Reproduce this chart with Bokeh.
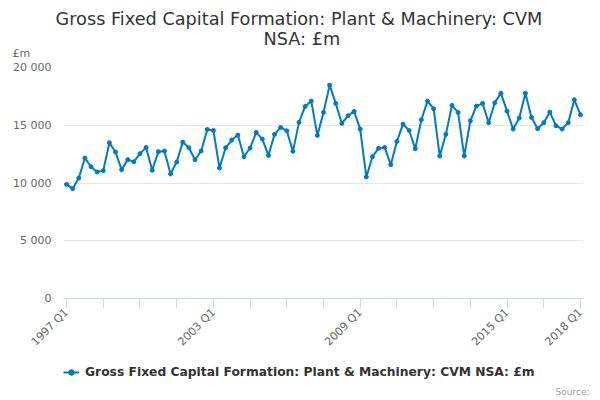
from math import pi
from bokeh.plotting import figure
from bokeh.layouts import column
from bokeh.models import (FixedTicker, Legend, LegendItem, Range1d, Title)
from bokeh.embed import file_html
from bokeh.resources import INLINE

title_line1 = "Gross Fixed Capital Formation: Plant & Machinery: CVM"
title_line2 = "NSA: £m"
series_name = "Gross Fixed Capital Formation: Plant & Machinery: CVM NSA: £m"
y_unit = "£m"
source_text = "Source:"

years = list(range(1997, 2019))
quarters = [f"{y} Q{q}" for y in years for q in (1, 2, 3, 4)][:85]

values = [
    9880, 9510, 10430, 12160, 11410, 10950, 11070, 13490, 12680, 11150,
    12020, 11840, 12540, 13080, 11100, 12710, 12770, 10780, 11820, 13540,
    13050, 12020, 12770, 14640, 14550, 11300, 13050, 13720, 14150, 12280,
    13030, 14380, 13800, 12390, 14210, 14810, 14520, 12740, 15250, 16630,
    17090, 14120, 16110, 18470, 16890, 15160, 15820, 16200, 14670, 10520,
    12280, 13000, 13080, 11590, 13600, 15100, 14550, 12970, 15480, 17090,
    16430, 12330, 14210, 16720, 16110, 12330, 15390, 16660, 16890, 15220,
    16950, 17780, 16220, 14670, 15620, 17780, 15680, 14700, 15220, 16140,
    14960, 14670, 15220, 17210, 15910,
]

y_ticks = [0, 5000, 10000, 15000, 20000]
y_tick_labels = ["0", "5 000", "10 000", "15 000", "20 000"]
x_label_idx = [0, 24, 48, 72, 84]

xs = list(range(len(values)))
FONT = "DejaVu Sans"
BLUE = "#007ac3"

p = figure(width=600, height=356, output_backend="svg", toolbar_location=None,
           x_range=Range1d(-0.5, len(values) - 0.5), y_range=Range1d(0, 20000),
           min_border_left=63, min_border_right=17, min_border_top=67, min_border_bottom=58)
p.outline_line_color = None
p.background_fill_color = "white"
p.border_fill_color = "white"

p.add_layout(Title(text=y_unit, align="left", offset=-51, text_font=FONT, text_font_size="11px",
                   text_color="#666666", text_font_style="normal", standoff=15), "above")
p.add_layout(Title(text=title_line2, align="left", offset=200, text_font=FONT, text_font_size="17.7px",
                   text_color="#333333", text_font_style="normal", standoff=-22), "above")
p.add_layout(Title(text=title_line1, align="left", offset=-8, text_font=FONT, text_font_size="17.7px",
                   text_color="#333333", text_font_style="normal", standoff=14,
                   vertical_align="top"), "above")

line = p.line(xs, values, line_color=BLUE, line_width=2)
pts = p.scatter(xs, values, size=4, marker="circle", fill_color=BLUE, line_color=BLUE)

# y axis
p.yaxis.ticker = FixedTicker(ticks=y_ticks)
p.yaxis.major_label_overrides = {v: s for v, s in zip(y_ticks, y_tick_labels)}
p.yaxis.axis_line_color = None
p.yaxis.major_tick_line_color = None
p.yaxis.minor_tick_line_color = None
p.yaxis.major_tick_out = 0
p.yaxis.major_label_standoff = 12
p.yaxis.major_label_text_font = FONT
p.yaxis.major_label_text_font_size = "11px"
p.yaxis.major_label_text_color = "#666666"
p.ygrid.grid_line_color = "#e6e6e6"
p.ygrid.ticker = FixedTicker(ticks=y_ticks)

# x axis
p.xaxis.ticker = FixedTicker(ticks=list(range(0, len(values), 6)))
p.xaxis.major_label_overrides = {i: (quarters[i] if i in x_label_idx else "") for i in range(0, len(values), 6)}
p.xaxis.major_label_orientation = pi / 4
p.xaxis.axis_line_color = "#ccd6eb"
p.xaxis.major_tick_line_color = "#ccd6eb"
p.xaxis.major_tick_out = 10
p.xaxis.major_tick_in = 0
p.xaxis.minor_tick_line_color = None
p.xaxis.major_label_standoff = 2
p.xaxis.major_label_text_font = FONT
p.xaxis.major_label_text_font_size = "11px"
p.xaxis.major_label_text_color = "#666666"
p.xgrid.grid_line_color = None

# legend strip below the chart
q = figure(width=600, height=44, output_backend="svg", toolbar_location=None,
           x_range=Range1d(0, 1), y_range=Range1d(0, 1),
           x_axis_location=None, y_axis_location=None,
           min_border_left=63, min_border_right=17, min_border_top=9, min_border_bottom=0)
q.outline_line_color = None
q.grid.grid_line_color = None
q.border_fill_color = "white"
q.background_fill_color = "white"
ql = q.line(xs, values, line_color=BLUE, line_width=2)
qs = q.scatter(xs, values, size=4, marker="circle", fill_color=BLUE, line_color=BLUE)

legend = Legend(items=[LegendItem(label=series_name, renderers=[ql, qs])],
                location="top_left", orientation="horizontal",
                label_text_font=FONT, label_text_font_size="12.3px",
                label_text_font_style="bold", label_text_color="#333333",
                border_line_color=None, background_fill_alpha=0,
                glyph_width=16, glyph_height=14, label_height=14,
                label_standoff=6, padding=2, margin=0, spacing=0)
q.add_layout(legend, "center")
q.add_layout(Title(text=source_text, align="right", offset=-6, text_font=FONT, text_font_size="9px",
                   text_color="#999999", text_font_style="normal", standoff=8), "below")

open("out.html", "w").write(file_html(column(p, q, spacing=0), INLINE))
